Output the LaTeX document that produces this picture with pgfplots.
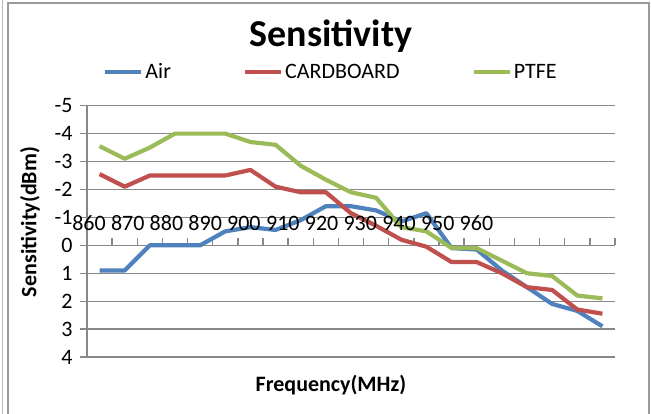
\documentclass[border=0pt]{standalone}
\usepackage{fontspec}
\setmainfont{Carlito}
\usepackage{pgfplots}
\usepackage{pgfplotstable}
\pgfplotsset{compat=1.18}
\definecolor{airc}{HTML}{4F81BD}
\definecolor{cardc}{HTML}{C0504D}
\definecolor{ptfec}{HTML}{9BBB59}
\definecolor{gridc}{HTML}{888888}

\pgfplotstableread{
x    air    card    ptfe
0.5  0.9   -2.55   -3.55
1.5  0.9   -2.1    -3.1
2.5  0.0   -2.5    -3.5
3.5  0.0   -2.5    -4.0
4.5  0.0   -2.5    -4.0
5.5 -0.5   -2.5    -4.0
6.5 -0.65  -2.7    -3.7
7.5 -0.55  -2.1    -3.6
8.5 -0.9   -1.9    -2.85
9.5 -1.4   -1.9    -2.35
10.5 -1.4  -1.15   -1.9
11.5 -1.25 -0.7    -1.7
12.5 -0.85 -0.2    -0.65
13.5 -1.15  0.05   -0.5
14.5  0.1   0.6     0.1
15.5  0.15  0.6     0.1
16.5  0.9   1.0     0.55
17.5  1.5   1.5     1.0
18.5  2.1   1.6     1.1
19.5  2.35  2.3     1.8
20.5  2.9   2.45    1.9
}\sens

\pgfplotsset{
  common/.style={
    at={(87pt,57pt)}, anchor=south west,
    scale only axis, width=528pt, height=251.3pt,
    xmin=0, xmax=21, ymin=-5, ymax=4, y dir=reverse,
    clip=false,
    tick align=outside,
    major tick length=7pt,
    ticklabel style={font=\fontsize{22}{26}\selectfont},
  }
}

\begin{document}
\begin{tikzpicture}[x=1pt,y=1pt]
\useasboundingbox (0,0) rectangle (651,414);
\draw[gridc!85, line width=1.3pt] (8,0) -- (8,411) -- (649,411) -- (649,0);
\draw[gridc!60, line width=1pt] (2.5,0) -- (2.5,414);
\begin{axis}[
  common,
  axis y line*=left, axis x line*=middle,
  axis line style={-, draw=gridc, line width=1.3pt},
  ytick={-5,...,4},
  yticklabels={-5,-4,-3,-2,-1,0,1,2,3,4},
  xtick=\empty,
  ytick style={draw=gridc, line width=1.3pt},
  ymajorgrids,
  major grid style={draw=gridc, line width=1.3pt},
  yticklabel style={xshift=-4pt},
  every axis title/.style={at={(axis description cs:0.462,1.234)}, anchor=base, font=\bfseries\fontsize{38}{44}\selectfont},
  title={Sensitivity},
  every axis x label/.style={at={(axis description cs:0.462,-0.111)}, anchor=center, font=\bfseries\fontsize{22}{26}\selectfont},
  xlabel={Frequency(MHz)},
  every axis y label/.style={at={(axis description cs:-0.108,0.537)}, anchor=center, rotate=90, font=\bfseries\fontsize{22}{26}\selectfont},
  ylabel={Sensitivity(dBm)},
  legend columns=3,
  legend style={draw=none, fill=none, at={(axis description cs:0.462,1.134)}, anchor=center,
    font=\fontsize{22}{26}\selectfont,
    /tikz/every even column/.append style={column sep=70pt}},
  legend image code/.code={\draw[#1] (0pt,0pt) -- (36pt,0pt);},
]
\pgfplotsinvokeforeach{1,...,21}{\draw[gridc, line width=1.3pt] (axis cs:#1,0) -- (axis cs:#1,-0.25);}
\addplot[airc, line width=4.2pt, line join=round] table[x=x, y=air] {\sens};
\addlegendentry{Air}
\addplot[cardc, line width=4.2pt, line join=round] table[x=x, y=card] {\sens};
\addlegendentry{CARDBOARD}
\addplot[ptfec, line width=4.2pt, line join=round] table[x=x, y=ptfe] {\sens};
\addlegendentry{PTFE}
\end{axis}
\begin{axis}[
  common,
  axis x line*=middle, axis y line=none,
  axis line style={draw=none},
  hide obscured x ticks=false,
  ytick=\empty,
  xtick={0.08,1.62,3.16,4.70,6.24,7.79,9.33,10.87,12.41,13.95,15.49},
  xticklabels={860,870,880,890,900,910,920,930,940,950,960},
  xtick style={draw=none},
  xticklabel style={anchor=center, yshift=29pt},
]
\end{axis}
\end{tikzpicture}
\end{document}
